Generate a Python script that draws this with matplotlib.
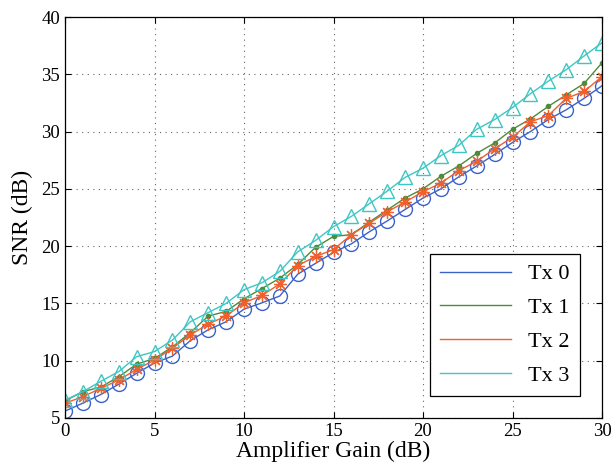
import matplotlib
matplotlib.use("Agg")
import matplotlib.pyplot as plt
from matplotlib.lines import Line2D
import numpy as np

plt.rcParams.update({
    "font.family": ["Liberation Serif", "DejaVu Serif"],
    "mathtext.fontset": "stix",
})

# amplifier gain sweep (dB) and measured SNR per transmitter
gain = np.arange(0, 31)
snr_tx0 = [5.6, 6.3, 7.05, 7.95, 8.9, 9.8, 10.4, 11.75, 12.7, 13.4, 14.5,
           15.05, 15.65, 17.55, 18.5, 19.45, 20.2, 21.25, 22.2, 23.2, 24.2,
           25.0, 26.05, 27.0, 28.0, 29.05, 30.0, 31.05, 31.9, 32.9, 34.0]
snr_tx1 = [6.5, 7.3, 7.7, 8.6, 9.7, 10.2, 11.2, 12.45, 13.9, 14.3, 15.4,
           16.3, 17.2, 18.4, 19.9, 20.85, 21.0, 22.1, 23.15, 24.2, 25.0,
           26.1, 27.0, 28.1, 29.0, 30.2, 31.1, 32.2, 33.2, 34.2, 36.0]
snr_tx2 = [6.3, 6.85, 7.6, 8.3, 9.25, 10.05, 11.1, 12.25, 13.2, 13.9, 15.05,
           15.7, 16.7, 18.3, 19.1, 19.7, 21.0, 22.0, 23.0, 23.85, 24.75,
           25.5, 26.6, 27.4, 28.5, 29.5, 30.85, 31.4, 32.9, 33.5, 34.8]
snr_tx3 = [6.55, 7.3, 8.2, 9.05, 10.35, 10.8, 11.8, 13.4, 14.2, 15.0, 16.2,
           16.8, 17.8, 19.5, 20.5, 21.7, 22.6, 23.7, 24.8, 26.0, 26.8,
           27.9, 28.8, 30.2, 31.05, 32.1, 33.3, 34.4, 35.4, 36.6, 37.75]
labels = ["Tx 0", "Tx 1", "Tx 2", "Tx 3"]

colors = ["#3a62c8", "#4f8a3c", "#f0602c", "#3ec6c4"]

fig = plt.figure(figsize=(6.11, 4.67), dpi=100)
ax = fig.add_axes([65 / 611, 1 - 418 / 467, 537 / 611, 401 / 467])

ax.plot(gain, snr_tx0, color=colors[0], lw=1.0, marker="o", ms=10,
        mfc="none", mec=colors[0], mew=1.0)
ax.plot(gain, snr_tx1, color=colors[1], lw=1.0, marker=".", ms=6,
        mfc=colors[1], mec=colors[1])
ax.plot(gain, snr_tx2, color=colors[2], lw=1.0, marker=(8, 2, 0), ms=9,
        mec=colors[2], mew=0.9)
ax.plot(gain, snr_tx3, color=colors[3], lw=1.0, marker="^", ms=10,
        mfc="none", mec=colors[3], mew=1.0)

ax.set_xlim(0, 30)
ax.set_ylim(5, 40)
ax.set_xticks(np.arange(0, 31, 5))
ax.set_yticks(np.arange(5, 41, 5))
ax.tick_params(direction="in", top=True, right=True, labelsize=13.5,
               length=4, width=0.8)
ax.grid(True, linestyle=(0, (1, 4)), color="#666666", lw=0.8)
for s in ax.spines.values():
    s.set_linewidth(0.9)

ax.set_xlabel("Amplifier Gain (dB)", fontsize=17, labelpad=1)
ax.set_ylabel("SNR (dB)", fontsize=17, labelpad=6)

handles = [Line2D([], [], color=c, lw=1.0) for c in colors]
leg = ax.legend(handles, labels, loc="lower right",
                bbox_to_anchor=(0.959, 0.055), borderaxespad=0,
                fontsize=16, handlelength=3.2, labelspacing=0.6,
                borderpad=0.45, fancybox=False, framealpha=1,
                edgecolor="black")
leg.get_frame().set_linewidth(0.9)

fig.savefig("out.png", dpi=100)
